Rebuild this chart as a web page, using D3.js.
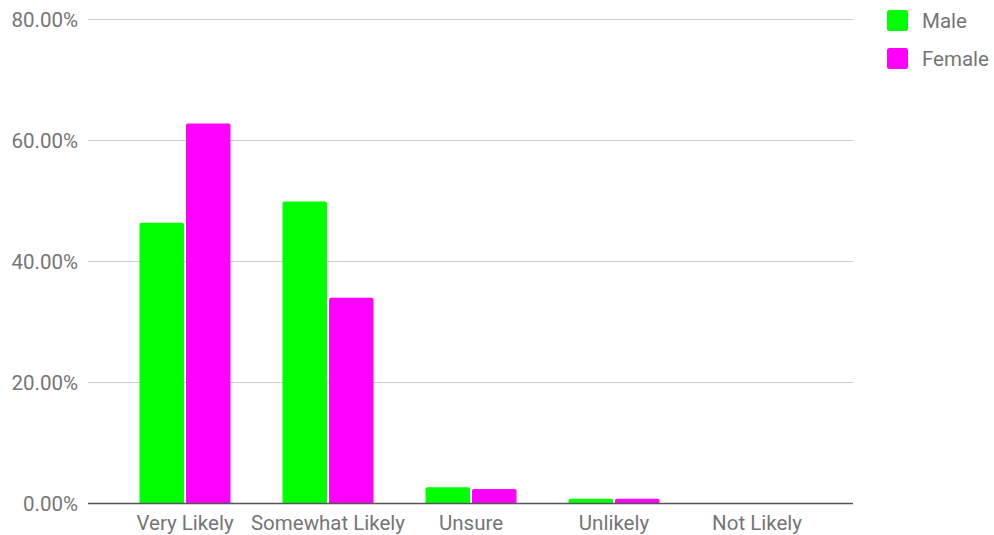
<!DOCTYPE html>
<html>
<head>
<meta charset="utf-8">
<script src="https://cdn.jsdelivr.net/npm/d3@7"></script>
<style>
  html, body { margin: 0; padding: 0; background: #ffffff; }
  svg { display: block; }
  text { font-family: Roboto, "Liberation Sans", Arial, sans-serif; fill: #757575; }
</style>
</head>
<body>
<svg id="chart" width="994" height="535"></svg>
<script>
// Likelihood responses by gender (share of respondents, %)
const categories = ["Very Likely", "Somewhat Likely", "Unsure", "Unlikely", "Not Likely"];
const maleValues = [46.4, 49.9, 2.7, 0.8, 0];
const femaleValues = [62.8, 34.0, 2.4, 0.8, 0];
const seriesNames = ["Male", "Female"];
const seriesColors = ["#00ff00", "#ff00ff"];
const yTicks = [0, 20, 40, 60, 80];

const series = [maleValues, femaleValues];
const rows = categories.map((c, i) => ({
  category: c,
  values: series.map((vals, s) => ({ key: seriesNames[s], value: vals[i], s }))
}));

const svg = d3.select("#chart");
const plotLeft = 88, plotRight = 853, plotTop = 19.5, plotBottom = 503.5;
const fontSize = 20.5;

const y = d3.scaleLinear().domain([0, 80]).range([plotBottom, plotTop]);
const x0 = d3.scaleBand().domain(categories).range([113.5, 828.5]).paddingInner(0.3636).paddingOuter(0.1818);
const x1 = d3.scaleBand().domain(seriesNames).range([0, x0.bandwidth()]).paddingInner(0.043);

// Horizontal gridlines
svg.append("g")
  .selectAll("line")
  .data(yTicks.filter(t => t > 0))
  .join("line")
  .attr("x1", plotLeft).attr("x2", plotRight)
  .attr("y1", d => y(d)).attr("y2", d => y(d))
  .attr("stroke", "#cccccc").attr("stroke-width", 1.2);

// Y axis labels
const yAxis = svg.append("g")
  .attr("transform", `translate(${plotLeft},0)`)
  .call(d3.axisLeft(y).tickValues(yTicks).tickSize(0).tickPadding(10).tickFormat(d => d.toFixed(2) + "%"));
yAxis.select(".domain").remove();
yAxis.selectAll("text").attr("font-size", fontSize).style("fill", "#757575");

// Bars with slightly rounded top corners
const barRadius = 2;
const groups = svg.append("g")
  .selectAll("g")
  .data(rows)
  .join("g")
  .attr("transform", d => `translate(${x0(d.category)},0)`);

groups.selectAll("path")
  .data(d => d.values.filter(v => v.value > 0))
  .join("path")
  .attr("fill", d => seriesColors[d.s])
  .attr("d", d => {
    const bx = x1(d.key), bw = x1.bandwidth();
    const by = y(d.value), bh = plotBottom - by;
    const r = Math.min(barRadius, bh / 2, bw / 2);
    return `M${bx},${plotBottom}V${by + r}Q${bx},${by} ${bx + r},${by}H${bx + bw - r}Q${bx + bw},${by} ${bx + bw},${by + r}V${plotBottom}Z`;
  });

// Baseline
svg.append("line")
  .attr("x1", plotLeft).attr("x2", plotRight)
  .attr("y1", plotBottom).attr("y2", plotBottom)
  .attr("stroke", "#555555").attr("stroke-width", 1.5);

// X axis labels
const xAxis = svg.append("g")
  .attr("transform", `translate(0,${plotBottom})`)
  .call(d3.axisBottom(x0).tickSize(0).tickPadding(12));
xAxis.select(".domain").remove();
xAxis.selectAll("text").attr("font-size", fontSize).style("fill", "#757575");

// Legend
const legend = svg.append("g")
  .selectAll("g")
  .data(seriesNames)
  .join("g")
  .attr("transform", (d, i) => `translate(887,${10 + i * 38})`);
legend.append("rect")
  .attr("width", 21).attr("height", 21).attr("rx", 2.5)
  .attr("fill", (d, i) => seriesColors[i]);
legend.append("text")
  .attr("x", 35).attr("y", 17.5)
  .attr("font-size", fontSize)
  .text(d => d);
</script>
</body>
</html>
